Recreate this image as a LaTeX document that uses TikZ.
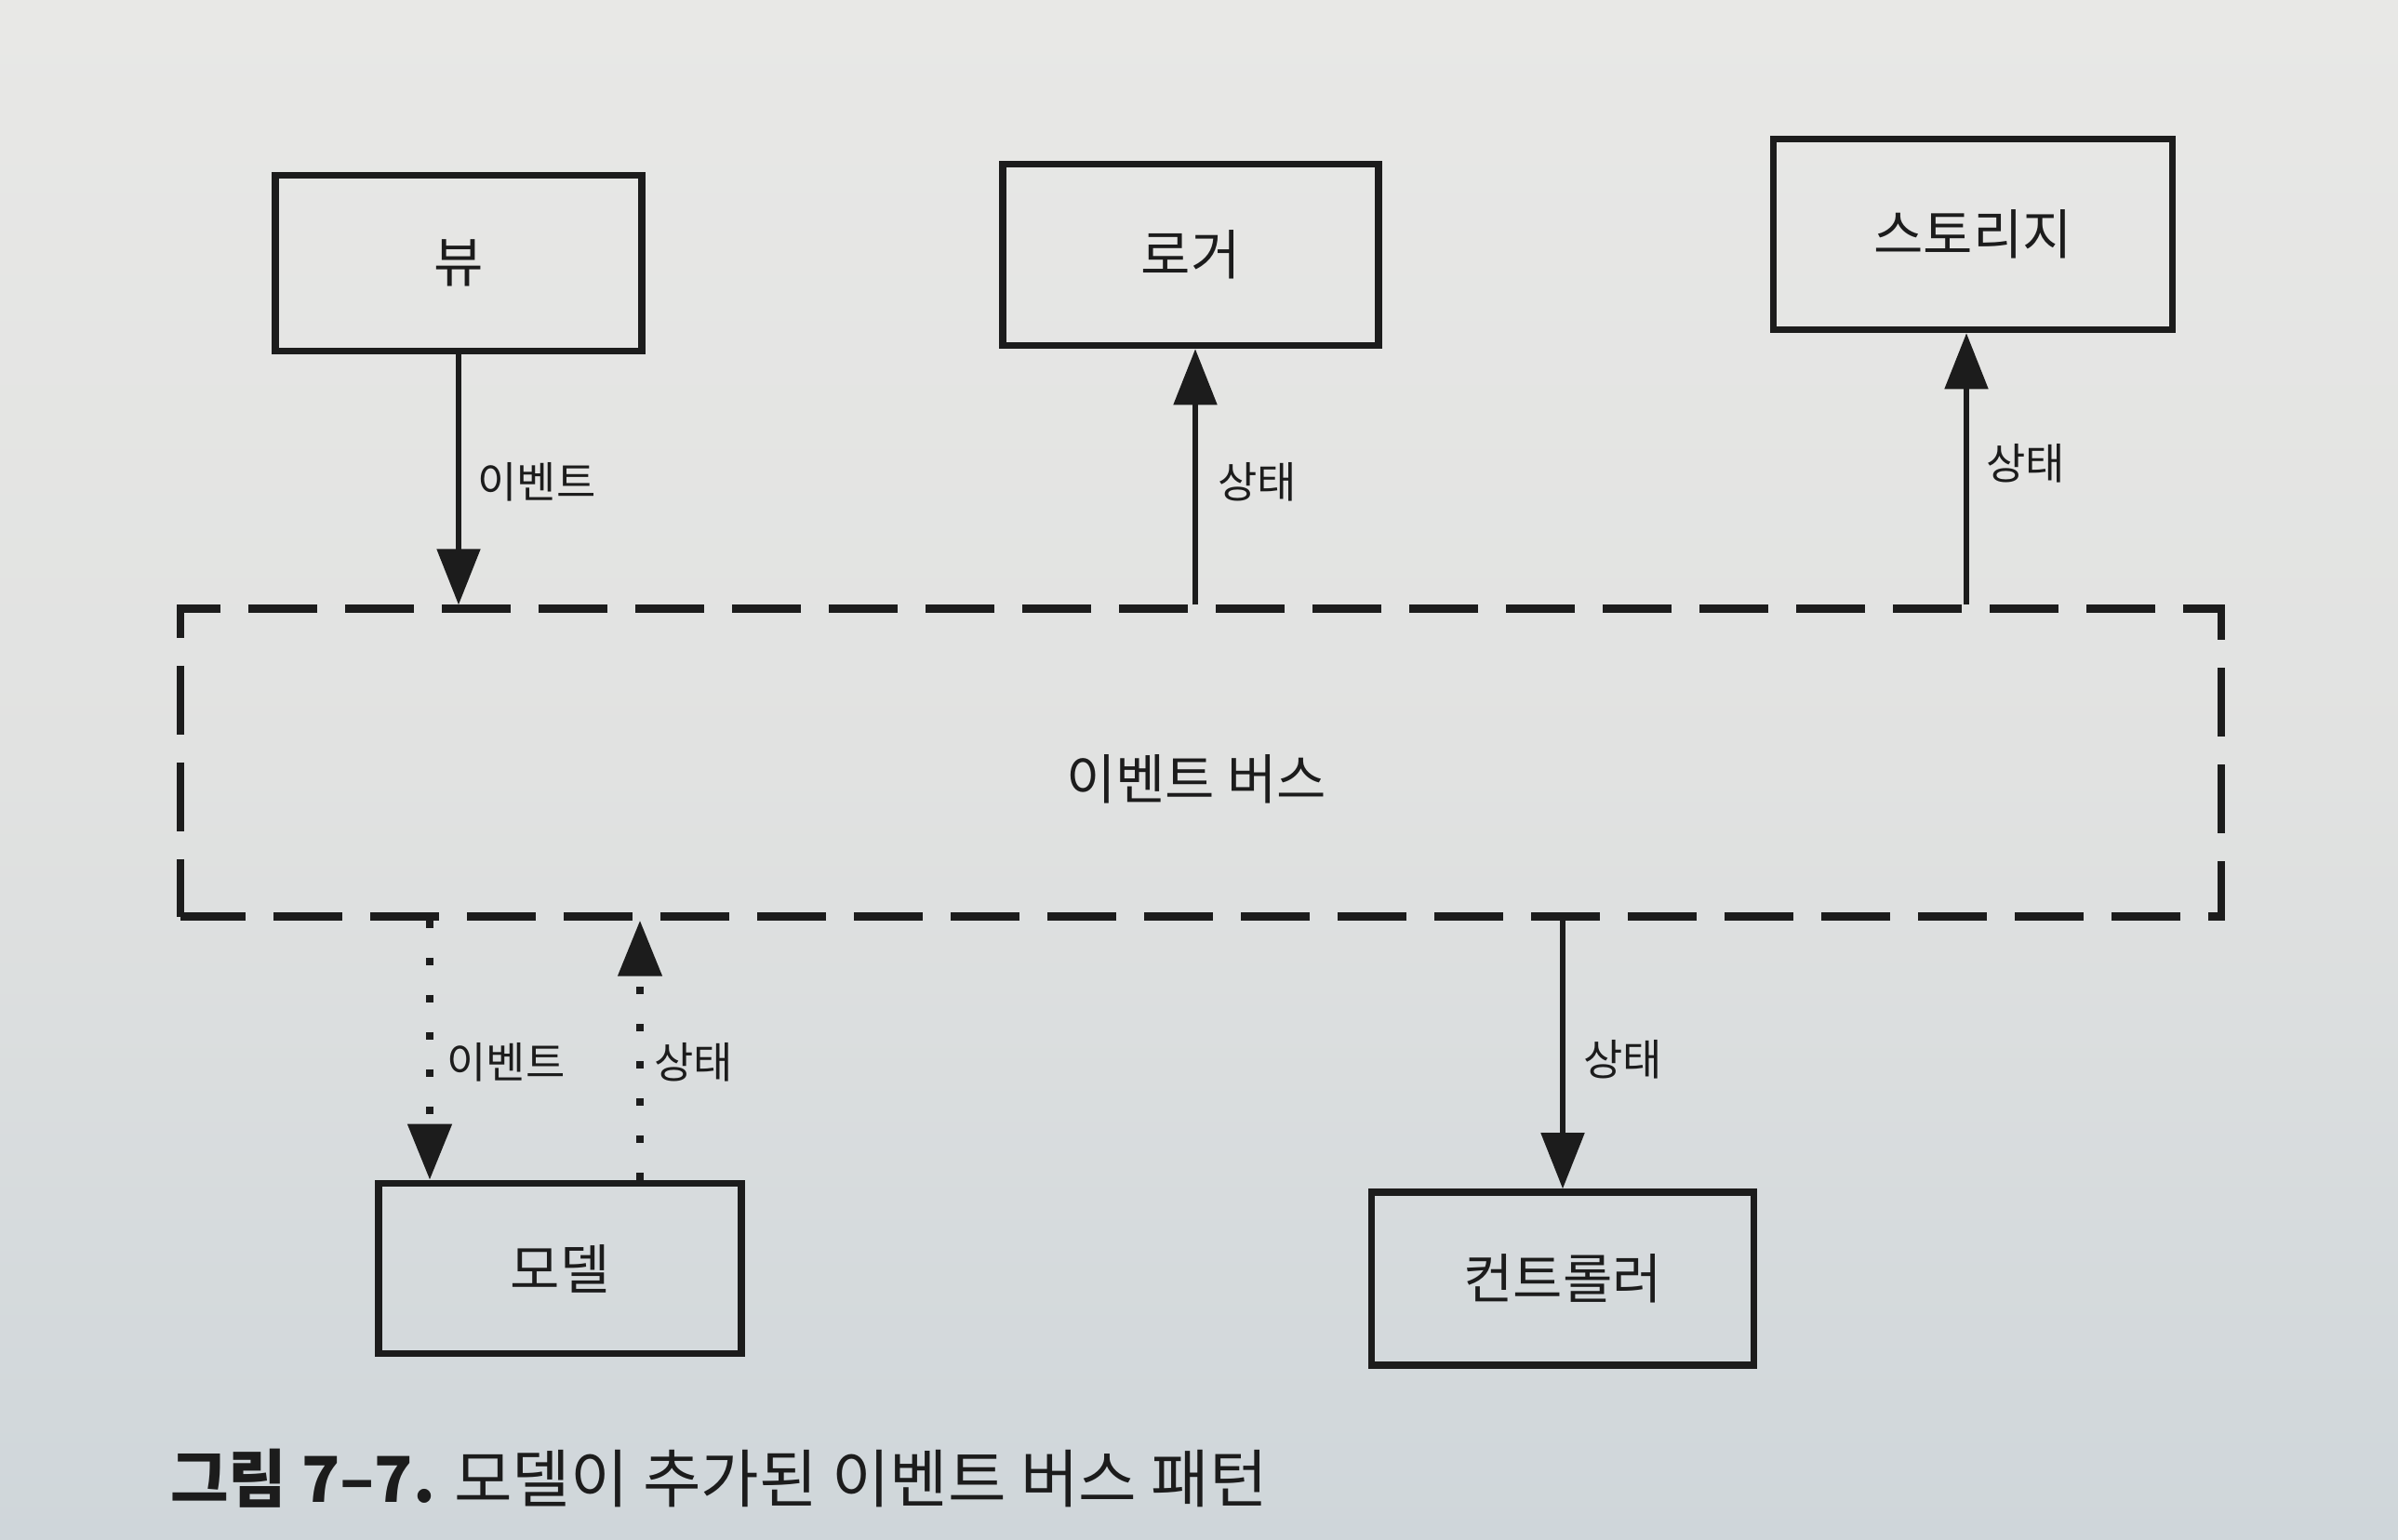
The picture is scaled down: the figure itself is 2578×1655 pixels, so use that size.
\documentclass[tikz,border=0pt]{standalone}
\usepackage{fontspec}
\setmainfont{Noto Sans CJK KR}
\usetikzlibrary{arrows.meta,calc}
\definecolor{ink}{HTML}{1C1C1C}
\definecolor{bgtop}{HTML}{E8E8E6}
\definecolor{bgmid}{HTML}{E1E2E1}
\definecolor{bgbot}{HTML}{CFD6DA}
\begin{document}
\begin{tikzpicture}[x=0.5pt,y=-0.5pt,
  box/.style={draw=ink, line width=3.8pt, rectangle, inner sep=0pt, font=\fontsize{29}{31}\selectfont, text=ink},
  lbl/.style={anchor=west, inner sep=0pt, font=\fontsize{23}{25}\selectfont, text=ink},
  conn/.style={draw=ink, line width=2.6pt, -{Triangle[length=30pt,width=23pt]}},
  dotconn/.style={conn, line width=4pt, dash pattern=on 4pt off 16pt}]
\useasboundingbox (0,0) rectangle (2578,1655);
\shade[top color=bgtop, bottom color=bgbot, middle color=bgmid] (0,0) rectangle (2578,1655);

% boxes
\node[box, minimum width=197pt, minimum height=94.5pt] (view) at (493,283) {뷰};
\node[box, minimum width=202pt, minimum height=97.5pt] (logger) at (1280,274) {로거};
\node[box, minimum width=214.5pt, minimum height=102.5pt] (storage) at (2121,252) {스토리지};
\node[box, minimum width=195pt, minimum height=91.5pt] (model) at (602,1364) {모델};
\node[box, minimum width=205.5pt, minimum height=93pt] (ctrl) at (1680,1375) {컨트롤러};

% event bus
\node[draw=ink, line width=4.2pt, dash pattern=on 37pt off 15pt, dash phase=2pt, rectangle, inner sep=0pt,
      minimum width=1097pt, minimum height=165.5pt, font=\fontsize{29}{31}\selectfont, text=ink] (bus) at (1291,820) {};
\node[inner sep=0pt, font=\fontsize{29}{31}\selectfont, text=ink] (bustext) at (1286,838) {이벤트 버스};

% helper coordinates
\coordinate (mdown) at ($(model.north)+(-140,0)$);
\coordinate (mup) at ($(model.north)+(86,0)$);
\coordinate (lgx) at ($(logger.south)+(5,0)$);
\coordinate (stx) at ($(storage.south)+(-7,0)$);

% connectors
\draw[conn] (view.south) -- (view.south |- bus.north);
\draw[conn] (lgx |- bus.north) -- (lgx);
\draw[conn] (stx |- bus.north) -- (stx);
\draw[dotconn] (mdown |- bus.south) -- (mdown);
\draw[dotconn] (mup) -- (mup |- bus.south);
\draw[conn] (ctrl.north |- bus.south) -- (ctrl.north);

% labels
\node[lbl] (l1) at (513,518) {이벤트};
\node[lbl] (l2) at (1309,518) {상태};
\node[lbl] (l3) at (2135,498) {상태};
\node[lbl] (l4) at (480,1142) {이벤트};
\node[lbl] (l5) at (703,1142) {상태};
\node[lbl] (l6) at (1702,1139) {상태};

% caption
\node[anchor=west, inner sep=0pt, font=\fontsize{34}{36}\selectfont, text=ink] (cap) at (183,1590) {\textbf{그림 7–7.} 모델이 추가된 이벤트 버스 패턴};
\end{tikzpicture}
\end{document}
